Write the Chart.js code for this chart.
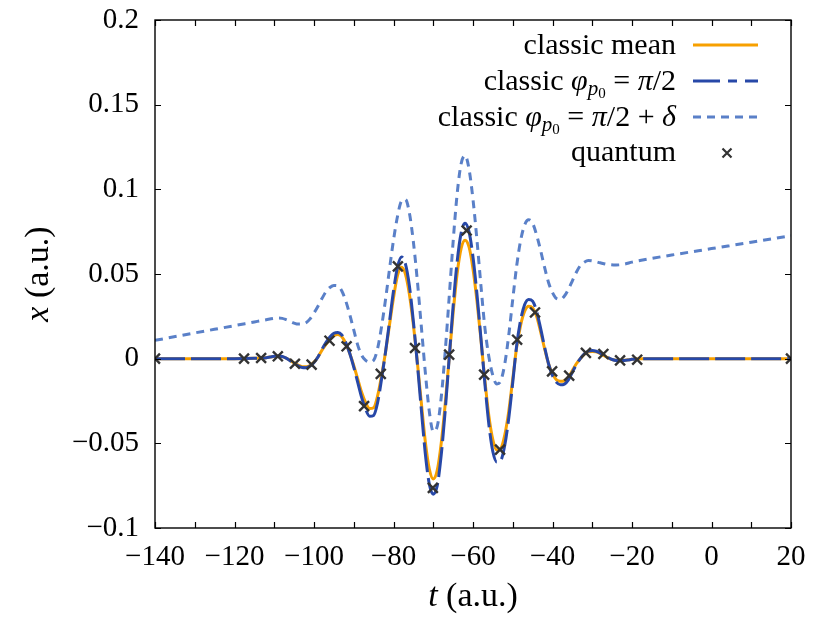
<!DOCTYPE html>
<html>
<head>
<meta charset="utf-8">
<script src="https://cdn.jsdelivr.net/npm/chart.js@4.4.1/dist/chart.umd.min.js"></script>
<style>
  html, body { margin: 0; padding: 0; background: #ffffff; }
  #wrap { width: 814px; height: 622px; }
</style>
</head>
<body>
<div id="wrap"><canvas id="c" width="814" height="622"></canvas></div>
<script>
// ---------------- data ----------------
const tCurve = [-140, -130, -120, -115, -112, -111, -110, -109, -108, -107, -106, -105, -104, -103, -102, -101,
  -100, -99, -98, -97, -96, -95, -94, -93, -92, -91, -90, -89, -88, -87, -86, -85, -84, -83, -82, -81,
  -80, -79, -78, -77, -76, -75, -74, -73, -72, -71, -70, -69, -68, -67, -66, -65, -64, -63, -62, -61,
  -60, -59, -58, -57, -56, -55, -54, -53, -52, -51, -50, -49, -48, -47, -46, -45, -44, -43, -42, -41,
  -40, -39, -38, -37, -36, -35, -34, -33, -32, -31, -30, -29, -28, -27, -26, -25, -24, -23, -22, -21,
  -20, -18, -15, -10, 0, 10, 20];

const classicMean = [0, 0, 0, 0.0002, 0.0006, 0.001, 0.0013, 0.0015, 0.0012, 0.0003, -0.001, -0.0025, -0.0038, -0.0047, -0.0048, -0.004,
  -0.002, 0.001, 0.005, 0.0085, 0.0115, 0.0135, 0.0142, 0.013, 0.009, 0.003, -0.004, -0.012, -0.020, -0.026, -0.0295, -0.029, -0.022, -0.010, 0.004, 0.020,
  0.036, 0.049, 0.054, 0.050, 0.038, 0.020, -0.002, -0.026, -0.049, -0.065, -0.071, -0.066, -0.050, -0.027, 0.000, 0.027, 0.050, 0.065, 0.070, 0.066,
  0.053, 0.034, 0.011, -0.013, -0.034, -0.048, -0.054, -0.053, -0.045, -0.031, -0.012, 0.007, 0.020, 0.028, 0.031, 0.030, 0.025, 0.016, 0.006, -0.003,
  -0.009, -0.0125, -0.0134, -0.013, -0.011, -0.007, -0.003, 0.000, 0.0025, 0.004, 0.0043, 0.004, 0.003, 0.0017, 0.0005, -0.0005, -0.001, -0.0011, -0.001, -0.0007,
  -0.0004, -0.0001, 0, 0, 0, 0, 0];

const classicHalfPi = [0, 0, 0, 0.0002, 0.0006, 0.001, 0.0014, 0.0016, 0.0013, 0.0003, -0.0012, -0.0028, -0.0042, -0.0052, -0.0053, -0.0044,
  -0.0022, 0.001, 0.0055, 0.0095, 0.0128, 0.015, 0.0155, 0.014, 0.0095, 0.003, -0.005, -0.014, -0.023, -0.030, -0.034, -0.0335, -0.026, -0.012, 0.004, 0.022,
  0.040, 0.054, 0.060, 0.056, 0.043, 0.022, -0.003, -0.030, -0.056, -0.074, -0.080, -0.075, -0.057, -0.031, 0.000, 0.031, 0.057, 0.074, 0.080, 0.075,
  0.060, 0.038, 0.012, -0.015, -0.039, -0.055, -0.061, -0.060, -0.051, -0.035, -0.014, 0.008, 0.023, 0.032, 0.035, 0.034, 0.028, 0.018, 0.007, -0.003,
  -0.010, -0.014, -0.0154, -0.015, -0.0125, -0.008, -0.0035, 0.000, 0.0028, 0.0045, 0.0048, 0.0044, 0.0033, 0.0019, 0.0006, -0.0005, -0.0011, -0.0012, -0.0011, -0.0008,
  -0.0004, -0.0001, 0, 0, 0, 0, 0];

const tDelta = [-140, -130, -120, -115, -112, -110, -109, -108, -107, -106, -105, -104, -103, -102, -101,
  -100, -99, -98, -97, -96, -95, -94, -93, -92, -91, -90, -89, -88, -87, -86, -85, -84, -83, -82, -81,
  -80, -79, -78, -77, -76, -75, -74, -73, -72, -71, -70, -69, -68, -67, -66, -65, -64, -63, -62, -61,
  -60, -59, -58, -57, -56, -55, -54, -53, -52, -51, -50, -49, -48, -47, -46, -45, -44, -43, -42, -41,
  -40, -39, -38, -37, -36, -35, -34, -33, -32, -31, -30, -28, -26, -24, -22, -20, -18, -10, 0, 10, 20];

const classicHalfPiDelta = [0.0108, 0.0152, 0.0195, 0.0217, 0.023, 0.0238, 0.024, 0.0238, 0.023, 0.022, 0.021, 0.0204, 0.0205, 0.0212, 0.0235,
  0.027, 0.031, 0.0355, 0.0395, 0.042, 0.0432, 0.043, 0.040, 0.034, 0.026, 0.017, 0.008, 0.002, -0.001, -0.002, -0.001, 0.006, 0.019, 0.035, 0.053,
  0.070, 0.084, 0.093, 0.094, 0.086, 0.069, 0.046, 0.019, -0.008, -0.031, -0.043, -0.040, -0.023, 0.004, 0.036, 0.069, 0.097, 0.115, 0.120, 0.112,
  0.094, 0.070, 0.043, 0.018, 0.001, -0.010, -0.015, -0.013, -0.003, 0.014, 0.035, 0.055, 0.070, 0.079, 0.082, 0.080, 0.073, 0.064, 0.054, 0.045,
  0.039, 0.0355, 0.035, 0.037, 0.041, 0.046, 0.051, 0.055, 0.057, 0.058, 0.0578, 0.0566, 0.0556, 0.0553, 0.0558, 0.057, 0.058, 0.0612, 0.065, 0.0688, 0.0726];

const tQuantum = [-140, -117.6, -113.3, -109.1, -104.8, -100.6, -96.1, -91.8, -87.4, -83.2, -78.9, -74.6, -70.1,
  -66.0, -61.6, -57.2, -53.2, -48.9, -44.4, -40.1, -35.8, -31.6, -27.2, -23.0, -18.7, 20];
const quantum = [0, 0, 0.0004, 0.0014, -0.003, -0.0035, 0.0106, 0.0073, -0.028, -0.009, 0.0545, 0.0063, -0.0763,
  0.0024, 0.0757, -0.0094, -0.0537, 0.0112, 0.0273, -0.0075, -0.010, 0.0034, 0.0028, -0.001, -0.0006, 0];

const xTickValues = [-140, -120, -100, -80, -60, -40, -20, 0, 20];
const xMinorTicks = [-140, -130, -120, -110, -100, -90, -80, -70, -60, -50, -40, -30, -20, -10, 0, 10, 20];
const yTickValues = [-0.1, -0.05, 0, 0.05, 0.1, 0.15, 0.2];

// ---------------- styles ----------------
const SERIF = '"Liberation Serif", "Times New Roman", serif';
const COL_MEAN = '#f7a000';
const COL_HALF = '#2748a8';
const COL_DELTA = '#5a80c8';
const COL_Q = '#333333';

function pts(xs, ys) { return xs.map((x, i) => ({ x: x, y: ys[i] })); }
function fmt(v) {
  const s = String(Number(v.toFixed(3)));
  return s.replace('-', '\u2212');
}

// draw a sequence of text segments right-aligned at xRight
function drawRuns(ctx, runs, xRight, baseY) {
  let total = 0;
  runs.forEach(r => { ctx.font = r.font; r.w = ctx.measureText(r.text).width; total += r.w; });
  let x = xRight - total;
  ctx.textAlign = 'left';
  ctx.textBaseline = 'alphabetic';
  runs.forEach(r => { ctx.font = r.font; ctx.fillText(r.text, x, baseY + (r.dy || 0)); x += r.w; });
}

const framePlugin = {
  id: 'frame',
  afterDraw(chart) {
    const ctx = chart.ctx;
    const a = chart.chartArea;
    const xs = chart.scales.x, ys = chart.scales.y;
    ctx.save();
    ctx.strokeStyle = '#000';
    ctx.lineWidth = 1.4;
    ctx.strokeRect(a.left, a.top, a.right - a.left, a.bottom - a.top);
    const tl = 6;
    ctx.beginPath();
    xMinorTicks.forEach(t => {
      const px = Math.round(xs.getPixelForValue(t)) + 0.5;
      ctx.moveTo(px, a.bottom); ctx.lineTo(px, a.bottom - tl);
      ctx.moveTo(px, a.top); ctx.lineTo(px, a.top + tl);
    });
    yTickValues.forEach(v => {
      const py = Math.round(ys.getPixelForValue(v)) + 0.5;
      ctx.moveTo(a.left, py); ctx.lineTo(a.left + tl, py);
      ctx.moveTo(a.right, py); ctx.lineTo(a.right - tl, py);
    });
    ctx.lineWidth = 1.2;
    ctx.stroke();

    // axis titles
    ctx.fillStyle = '#000';
    const R = '34px ' + SERIF, I = 'italic 34px ' + SERIF;
    const xt = [{ text: 't', font: I }, { text: ' (a.u.)', font: R }];
    let w = 0; xt.forEach(r => { ctx.font = r.font; r.w = ctx.measureText(r.text).width; w += r.w; });
    drawRuns(ctx, xt, (a.left + a.right) / 2 + w / 2, 606);
    ctx.save();
    ctx.translate(48, (a.top + a.bottom) / 2);
    ctx.rotate(-Math.PI / 2);
    const yt = [{ text: 'x', font: I }, { text: ' (a.u.)', font: R }];
    w = 0; yt.forEach(r => { ctx.font = r.font; r.w = ctx.measureText(r.text).width; w += r.w; });
    drawRuns(ctx, yt, w / 2, 0);
    ctx.restore();

    // legend
    const LR = '30px ' + SERIF, LI = 'italic 30px ' + SERIF;
    const SI = 'italic 21px ' + SERIF, SS = '15px ' + SERIF;
    const xr = 676;
    drawRuns(ctx, [{ text: 'classic mean', font: LR }], xr, 54);
    drawRuns(ctx, [{ text: 'classic ', font: LR }, { text: '\u03C6', font: LI }, { text: 'p', font: SI, dy: 5 },
      { text: '0', font: SS, dy: 8 }, { text: ' = ', font: LR }, { text: '\u03C0', font: LI }, { text: '/2', font: LR }], xr, 90);
    drawRuns(ctx, [{ text: 'classic ', font: LR }, { text: '\u03C6', font: LI }, { text: 'p', font: SI, dy: 5 },
      { text: '0', font: SS, dy: 8 }, { text: ' = ', font: LR }, { text: '\u03C0', font: LI }, { text: '/2 + ', font: LR },
      { text: '\u03B4', font: LI }], xr, 126);
    drawRuns(ctx, [{ text: 'quantum', font: LR }], xr, 161);

    const s0 = 693, s1 = 758;
    ctx.lineWidth = 3;
    ctx.strokeStyle = COL_MEAN; ctx.setLineDash([]);
    ctx.beginPath(); ctx.moveTo(s0, 45); ctx.lineTo(s1, 45); ctx.stroke();
    ctx.strokeStyle = COL_HALF; ctx.setLineDash([27, 8, 9, 8]);
    ctx.beginPath(); ctx.moveTo(s0, 81); ctx.lineTo(s1, 81); ctx.stroke();
    ctx.strokeStyle = COL_DELTA; ctx.setLineDash([8, 6]);
    ctx.beginPath(); ctx.moveTo(s0, 117); ctx.lineTo(s1, 117); ctx.stroke();
    ctx.setLineDash([]);
    ctx.strokeStyle = COL_Q; ctx.lineWidth = 2.2;
    const cx = 727, cy = 153, r = 4.5;
    ctx.beginPath(); ctx.moveTo(cx - r, cy - r); ctx.lineTo(cx + r, cy + r);
    ctx.moveTo(cx - r, cy + r); ctx.lineTo(cx + r, cy - r); ctx.stroke();
    ctx.restore();
  }
};

new Chart(document.getElementById('c'), {
  type: 'line',
  data: {
    datasets: [
      { label: 'quantum', data: pts(tQuantum, quantum), showLine: false, order: 0,
        pointStyle: 'crossRot', pointRadius: 7, pointBorderWidth: 2.4, borderColor: COL_Q, backgroundColor: COL_Q },
      { label: 'classic phi = pi/2', data: pts(tCurve, classicHalfPi), order: 1, borderColor: COL_HALF,
        borderWidth: 3, borderDash: [30, 6], pointRadius: 0, cubicInterpolationMode: 'monotone', fill: false },
      { label: 'classic mean', data: pts(tCurve, classicMean), order: 2, borderColor: COL_MEAN,
        borderWidth: 3, pointRadius: 0, cubicInterpolationMode: 'monotone', fill: false },
      { label: 'classic phi = pi/2 + delta', data: pts(tDelta, classicHalfPiDelta), order: 3, borderColor: COL_DELTA,
        borderWidth: 3, borderDash: [8, 6], pointRadius: 0, cubicInterpolationMode: 'monotone', fill: false }
    ]
  },
  options: {
    responsive: false,
    animation: false,
    devicePixelRatio: 1,
    layout: { padding: { top: 20, right: 23, left: 0, bottom: 0 } },
    plugins: { legend: { display: false }, tooltip: { enabled: false } },
    scales: {
      x: {
        type: 'linear', min: -140, max: 20,
        afterBuildTicks(scale) { scale.ticks = xTickValues.map(v => ({ value: v })); },
        afterFit(scale) { scale.height = 94; scale.paddingLeft = 0; scale.paddingRight = 0; },
        grid: { display: false, drawTicks: false },
        border: { display: false },
        ticks: { autoSkip: false, maxRotation: 0, padding: 12, color: '#000',
          font: { family: SERIF, size: 29 }, callback: v => fmt(v) }
      },
      y: {
        type: 'linear', min: -0.1, max: 0.2,
        afterBuildTicks(scale) { scale.ticks = yTickValues.map(v => ({ value: v })); },
        afterFit(scale) { scale.width = 155; scale.paddingTop = 0; scale.paddingBottom = 0; },
        grid: { display: false, drawTicks: false },
        border: { display: false },
        ticks: { padding: 16, color: '#000', font: { family: SERIF, size: 29 }, callback: v => fmt(v) }
      }
    }
  },
  plugins: [framePlugin]
});
</script>
</body>
</html>
